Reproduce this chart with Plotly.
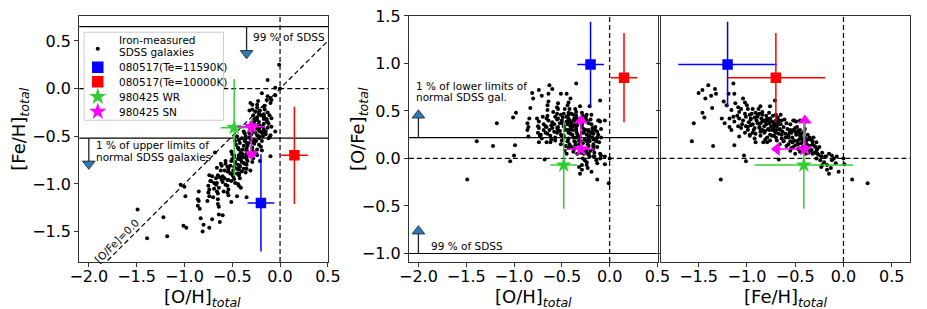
import plotly.graph_objects as go

FONT = "DejaVu Sans"
W, H = 927, 309

# ---------------- data ----------------
# SDSS iron-measured galaxies: ([Fe/H], [O/Fe]) pairs
sdss_feh_ofe = [
    (-1.50, 0.69), (-1.46, 0.72), (-1.40, 0.77), (-1.33, 0.73), (-1.32, 0.68), (-1.37, 0.66),
    (-1.43, 0.63), (-1.14, 0.79), (-1.19, 0.68), (-1.13, 0.68), (-1.24, 0.60), (-1.21, 0.56),
    (-1.36, 0.53), (-1.46, 0.48), (-1.44, 0.43), (-1.55, 0.37), (-1.57, 0.18), (-1.35, 0.13),
    (-1.13, 0.14), (-1.27, -0.22), (-1.03, 0.03), (-1.01, -0.03),
    (-1.04, 0.63), (-1.02, 0.59), (-1.09, 0.54), (-1.06, 0.52), (-1.08, 0.49), (-0.99, 0.52),
    (-0.94, 0.52), (-0.86, 0.55), (-0.76, 0.55), (-0.91, 0.48), (-0.87, 0.47), (-0.97, 0.46),
    (-1.16, 0.51), (-1.14, 0.44), (-1.18, 0.42), (-1.26, 0.42), (-1.23, 0.37), (-1.13, 0.39),
    (-1.08, 0.42), (-1.04, 0.40), (-1.01, 0.44), (-0.96, 0.42), (-0.92, 0.43), (-0.89, 0.44),
    (-0.84, 0.46), (-0.82, 0.40), (-0.79, 0.42), (-0.77, 0.37), (-0.74, 0.39), (-0.72, 0.34),
    (-0.69, 0.35), (-0.69, 0.30), (-1.09, 0.34), (-1.06, 0.32), (-1.01, 0.34), (-0.99, 0.30),
    (-0.96, 0.35), (-0.92, 0.32), (-0.87, 0.32), (-0.84, 0.30), (-0.81, 0.29), (-0.77, 0.30),
    (-0.76, 0.25), (-0.72, 0.24), (-0.94, 0.27), (-0.97, 0.24), (-0.91, 0.17), (-0.86, 0.24),
    (-0.81, 0.20), (-0.79, 0.17), (-1.16, 0.30), (-1.02, 0.27), (-0.84, 0.39), (-0.89, 0.37),
    (-0.70, 0.46), (-0.67, 0.40), (-0.72, 0.37), (-0.69, 0.34), (-0.65, 0.30), (-0.70, 0.27),
    (-0.64, 0.25), (-0.60, 0.22), (-0.57, 0.24), (-0.62, 0.18), (-0.55, 0.18), (-0.52, 0.40),
    (-0.49, 0.39), (-0.50, 0.32), (-0.47, 0.29), (-0.54, 0.27), (-0.45, 0.24), (-0.59, 0.13),
    (-0.52, 0.12), (-0.47, 0.15), (-0.42, 0.20), (-0.39, 0.18), (-0.35, 0.22), (-0.32, 0.18),
    (-0.30, 0.13), (-0.28, 0.08), (-0.27, 0.05), (-0.32, 0.05), (-0.35, 0.08), (-0.39, 0.05),
    (-0.45, 0.07), (-0.50, 0.05), (-0.55, 0.08), (-0.23, 0.02), (-0.18, 0.02), (-0.15, 0.05),
    (-0.12, -0.02), (-0.07, 0.02), (-0.22, -0.07), (-0.17, -0.07), (-0.13, -0.10), (-0.15, -0.16),
    (-0.23, -0.09), (0.09, -0.22), (0.25, -0.26), (0.01, -0.06),
    (-1.10, 0.45), (-1.05, 0.36), (-0.98, 0.38), (-0.95, 0.47), (-0.93, 0.30), (-0.90, 0.40),
    (-0.88, 0.52), (-1.00, 0.56), (-1.12, 0.58), (-0.97, 0.25), (-0.92, 0.21), (-1.08, 0.23),
    (-0.86, 0.28), (-0.84, 0.49), (-1.18, 0.33),
    (-0.82, 0.34), (-0.80, 0.45), (-0.78, 0.31), (-0.76, 0.42), (-0.74, 0.30), (-0.73, 0.45),
    (-0.71, 0.28), (-0.70, 0.40), (-0.68, 0.43), (-0.67, 0.26), (-0.65, 0.36), (-0.64, 0.21),
    (-0.62, 0.33), (-0.61, 0.41), (-0.79, 0.22), (-0.76, 0.19), (-0.83, 0.17), (-0.69, 0.19),
    (-0.66, 0.15), (-0.72, 0.36), (-0.81, 0.39), (-0.77, 0.48), (-0.86, 0.37), (-0.63, 0.28),
    (-0.60, 0.26),
    (-0.58, 0.31), (-0.57, 0.15), (-0.56, 0.27), (-0.55, 0.36), (-0.54, 0.11), (-0.53, 0.22),
    (-0.52, 0.30), (-0.51, 0.19), (-0.50, 0.14), (-0.49, 0.25), (-0.48, 0.33), (-0.47, 0.10),
    (-0.46, 0.20), (-0.45, 0.30), (-0.44, 0.16), (-0.43, 0.26), (-0.42, 0.12), (-0.41, 0.28),
    (-0.40, 0.22), (-0.39, 0.10), (-0.38, 0.15), (-0.37, 0.25), (-0.36, 0.06), (-0.35, 0.13),
    (-0.34, 0.20), (-0.33, 0.09), (-0.32, 0.15), (-0.31, 0.22), (-0.30, 0.06), (-0.29, 0.12),
    (-0.28, 0.17), (-0.27, 0.10), (-0.26, 0.04), (-0.25, 0.12), (-0.28, 0.00),
    (-0.24, -0.02), (-0.22, 0.06), (-0.20, -0.04), (-0.19, 0.02), (-0.17, -0.12), (-0.10, 0.00),
    (-0.08, -0.05), (-0.05, -0.14), (0.00, 0.00), (-0.12, 0.03),
    (-0.71, 0.61), (-0.51, 0.40), (-0.45, 0.40), (-0.65, 0.46), (-0.67, -0.01),
    (-1.02, 0.47), (-0.99, 0.33), (-0.96, 0.41), (-0.94, 0.36), (-0.91, 0.26), (-0.89, 0.46),
    (-0.87, 0.33), (-0.85, 0.42), (-0.82, 0.27), (-0.80, 0.36), (-0.78, 0.40), (-0.75, 0.34),
    (-0.74, 0.24), (-0.72, 0.31), (-0.70, 0.22), (-0.68, 0.38), (-0.66, 0.31), (-0.64, 0.40),
    (-0.62, 0.18), (-0.59, 0.37), (-0.57, 0.22), (-0.55, 0.30), (-0.53, 0.17), (-0.50, 0.28),
    (-0.48, 0.18), (-0.46, 0.27), (-0.44, 0.22), (-0.42, 0.18), (-0.40, 0.31), (-0.37, 0.20),
]
sdss_feh = [p[0] for p in sdss_feh_ofe]
sdss_ofe = [p[1] for p in sdss_feh_ofe]
sdss_oh = [round(f + o, 3) for f, o in sdss_feh_ofe]  # [O/H] = [Fe/H] + [O/Fe]

# GRB host measurements
grb_labels = ["080517(Te=11590K)", "080517(Te=10000K)", "980425 WR", "980425 SN"]
grb_oh = [-0.20, 0.15, -0.48, -0.30]
grb_oh_err = [0.14, 0.14, 0.14, 0.14]
grb_feh = [-1.20, -0.70, -0.41, -0.40]
grb_feh_err = [0.51, 0.51, 0.51, None]   # 980425 SN: upper limit
grb_ofe = [0.99, 0.85, -0.07, 0.10]
grb_ofe_err = [0.45, 0.47, 0.46, None]   # 980425 SN: lower limit
sn_feh_limit_end = -0.69
sn_ofe_limit_end = 0.40

# SDSS percentile limits
sdss_feh_upper_99 = 0.65
sdss_feh_upper_1 = -0.52
sdss_ofe_lower_1 = 0.22
sdss_ofe_lower_99 = -1.0
arrow_feh99 = (-0.35, 0.37)
arrow_feh1 = (-2.0, -0.79)
arrow_ofe1 = (-2.0, 0.455)
arrow_ofe99 = (-2.0, -0.765)

# ---------------- styles ----------------
grb_colors = ["#0000ff", "#ff0000", "#33cc33", "#ff00ff"]
grb_symbols = ["square", "square", "star", "star"]
grb_sizes = [10.5, 10.5, 12, 12]
ARROW_BLUE = "#2b7bba"

fig = go.Figure()

# SDSS dots
dot = dict(size=4, color="black")
fig.add_trace(go.Scatter(x=sdss_oh, y=sdss_feh, mode="markers", marker=dot, xaxis="x", yaxis="y"))
fig.add_trace(go.Scatter(x=sdss_oh, y=sdss_ofe, mode="markers", marker=dot, xaxis="x2", yaxis="y2"))
fig.add_trace(go.Scatter(x=sdss_feh, y=sdss_ofe, mode="markers", marker=dot, xaxis="x3", yaxis="y3"))


def err(v, c):
    if v is None:
        return dict(visible=False)
    return dict(type="data", array=[v], color=c, thickness=1.5, width=0)


# SN limit arrows (drawn first so the star sits on top)
c_sn = grb_colors[3]
i = 3
for (xa, ya, xs, ys, sym) in [
    ("x", "y", [grb_oh[i], grb_oh[i]], [grb_feh[i], sn_feh_limit_end], "triangle-down"),
    ("x2", "y2", [grb_oh[i], grb_oh[i]], [grb_ofe[i], sn_ofe_limit_end], "triangle-up"),
    ("x3", "y3", [grb_feh[i], sn_feh_limit_end], [grb_ofe[i], grb_ofe[i]], "triangle-left"),
    ("x3", "y3", [grb_feh[i], grb_feh[i]], [grb_ofe[i], sn_ofe_limit_end], "triangle-up"),
]:
    fig.add_trace(go.Scatter(x=xs, y=ys, mode="lines", line=dict(color=c_sn, width=1.6),
                             xaxis=xa, yaxis=ya))
    fig.add_trace(go.Scatter(x=[xs[1]], y=[ys[1]], mode="markers",
                             marker=dict(symbol=sym, size=12, color=c_sn), xaxis=xa, yaxis=ya))

# GRB points with error bars
for i in range(4):
    c = grb_colors[i]
    mk = dict(symbol=grb_symbols[i], size=grb_sizes[i], color=c, line=dict(width=0))
    fig.add_trace(go.Scatter(x=[grb_oh[i]], y=[grb_feh[i]], mode="markers", marker=mk,
                             error_x=err(grb_oh_err[i], c), error_y=err(grb_feh_err[i], c),
                             xaxis="x", yaxis="y"))
    fig.add_trace(go.Scatter(x=[grb_oh[i]], y=[grb_ofe[i]], mode="markers", marker=mk,
                             error_x=err(grb_oh_err[i], c), error_y=err(grb_ofe_err[i], c),
                             xaxis="x2", yaxis="y2"))
    fig.add_trace(go.Scatter(x=[grb_feh[i]], y=[grb_ofe[i]], mode="markers", marker=mk,
                             error_x=err(grb_feh_err[i], c), error_y=err(grb_ofe_err[i], c),
                             xaxis="x3", yaxis="y3"))

# SDSS limit arrows
for (xa, ya, base, (ax_, tip), sym) in [
    ("x", "y", sdss_feh_upper_99, arrow_feh99, "triangle-down"),
    ("x", "y", sdss_feh_upper_1, arrow_feh1, "triangle-down"),
    ("x2", "y2", sdss_ofe_lower_1, arrow_ofe1, "triangle-up"),
    ("x2", "y2", sdss_ofe_lower_99, arrow_ofe99, "triangle-up"),
]:
    fig.add_trace(go.Scatter(x=[ax_, ax_], y=[base, tip], mode="lines",
                             line=dict(color="#222222", width=1.3), xaxis=xa, yaxis=ya))
    fig.add_trace(go.Scatter(x=[ax_], y=[tip], mode="markers",
                             marker=dict(symbol=sym, size=11, color=ARROW_BLUE,
                                         line=dict(color="#1a1a1a", width=0.8)),
                             xaxis=xa, yaxis=ya))

# ---------------- reference lines ----------------
DASH = "5px,3px"


def hline(xa, ya, y, dash="solid", width=1.2):
    fig.add_shape(type="line", xref=f"{xa} domain", yref=ya, x0=0, x1=1, y0=y, y1=y,
                  line=dict(color="black", width=width, dash=dash), layer="below")


def vline(xa, ya, x, dash="solid", width=1.2):
    fig.add_shape(type="line", xref=xa, yref=f"{ya} domain", x0=x, x1=x, y0=0, y1=1,
                  line=dict(color="black", width=width, dash=dash), layer="below")


hline("x", "y", sdss_feh_upper_99)
hline("x", "y", sdss_feh_upper_1)
hline("x", "y", 0, DASH)
vline("x", "y", 0, DASH)
fig.add_shape(type="line", xref="x", yref="y", x0=-2.1, y0=-2.1, x1=0.5, y1=0.5,
              line=dict(color="black", width=1.2, dash=DASH), layer="below")
hline("x2", "y2", sdss_ofe_lower_1)
hline("x2", "y2", sdss_ofe_lower_99)
hline("x2", "y2", 0, DASH)
vline("x2", "y2", 0, DASH)
hline("x3", "y3", 0, DASH)
vline("x3", "y3", 0, DASH)

# ---------------- text ----------------
ann = []
small = dict(family=FONT, size=10.5, color="black")


def txt(xa, ya, x, y, t, xanchor="left", angle=0, font=small):
    ann.append(dict(xref=xa, yref=ya, x=x, y=y, text=t, showarrow=False, xanchor=xanchor,
                    yanchor="middle", textangle=angle, font=font))


txt("x", "y", -0.30, 0.54, "99 % of SDSS")
txt("x", "y", -1.95, -0.595, "1 % of upper limits of")
txt("x", "y", -1.95, -0.72, "normal SDSS galaxies")
txt("x", "y", -1.71, -1.60, "[O/Fe]=0.0", xanchor="center", angle=-45)
txt("x2", "y2", -2.045, 0.76, "1 % of lower limits of")
txt("x2", "y2", -2.045, 0.651, "normal SDSS gal.")
txt("x2", "y2", -1.89, -0.925, "99 % of SDSS")

big = dict(family=FONT, size=18, color="black")
sub = "<sub><i>total</i></sub>"
for (xp, yp, t, ang) in [
    (197, 299, "[O/H]" + sub, 0),
    (536.5, 299, "[O/H]" + sub, 0),
    (795.5, 299, "[Fe/H]" + sub, 0),
    (10, 124, "[Fe/H]" + sub, -90),
    (358, 124, "[O/Fe]" + sub, -90),
]:
    ann.append(dict(xref="paper", yref="paper", x=xp / W, y=1 - yp / H, text=t,
                    showarrow=False, xanchor="center", yanchor="middle", textangle=ang,
                    font=big))

# ---------------- legend (drawn on an overlay axis in pixel units) ----------------
leg_x0, leg_x1, leg_y0, leg_y1 = 76, 219, 24, 115
leg_marker_x, leg_text_x = 14, 34
leg_rows = [17, 36.3, 51.3, 66.7, 82]
fig.add_trace(go.Scatter(x=[leg_marker_x], y=[leg_rows[0]], mode="markers", marker=dot,
                         xaxis="x4", yaxis="y4"))
for i in range(4):
    fig.add_trace(go.Scatter(x=[leg_marker_x], y=[leg_rows[i + 1]], mode="markers",
                             marker=dict(symbol=grb_symbols[i], size=grb_sizes[i] + 1,
                                         color=grb_colors[i], line=dict(width=0)),
                             xaxis="x4", yaxis="y4"))
    txt("x4", "y4", leg_text_x, leg_rows[i + 1], grb_labels[i])
txt("x4", "y4", leg_text_x, 8.5, "Iron-measured")
txt("x4", "y4", leg_text_x, 20, "SDSS galaxies")
fig.add_shape(type="rect", xref="x4 domain", yref="y4 domain", x0=0, x1=1, y0=0, y1=1,
              line=dict(color="#cccccc", width=1), fillcolor="rgba(0,0,0,0)", layer="above")

# ---------------- axes ----------------
def xd(a, b):
    return [a / W, b / W]


ydom = [1 - 261.5 / H, 1 - 7 / H]
axis_common = dict(showline=True, mirror=True, linecolor="#333333", linewidth=1,
                   ticks="outside", ticklen=4, tickwidth=1, tickcolor="#333333",
                   showgrid=False, zeroline=False, tickformat=".1f", dtick=0.5, tick0=0,
                   tickfont=dict(family=FONT, size=16, color="black"), fixedrange=True,
                   ticklabeloverflow="allow")
xax = dict(axis_common, ticklabelstandoff=-4)

fig.update_layout(
    width=W, height=H, margin=dict(l=0, r=0, t=0, b=0),
    paper_bgcolor="white", plot_bgcolor="white", showlegend=False,
    font=dict(family=FONT, color="black"),
    xaxis=dict(domain=xd(71, 326), range=[-2.1, 0.5005], anchor="y", **xax),
    yaxis=dict(domain=ydom, range=[-1.82, 0.764], anchor="x", **axis_common),
    xaxis2=dict(domain=xd(409, 664), range=[-2.1, 0.5005], anchor="y2", **xax),
    yaxis2=dict(domain=ydom, range=[-1.09, 1.502], anchor="x2", **axis_common),
    xaxis3=dict(domain=xd(668, 923), range=[-1.885, 0.69], anchor="y3", **xax),
    yaxis3=dict(domain=ydom, range=[-1.09, 1.502], anchor="x3", showticklabels=False,
                **axis_common),
    xaxis4=dict(domain=xd(leg_x0, leg_x1), range=[0, leg_x1 - leg_x0], anchor="y4",
                visible=False, fixedrange=True),
    yaxis4=dict(domain=[1 - leg_y1 / H, 1 - leg_y0 / H], range=[leg_y1 - leg_y0, 0],
                anchor="x4", visible=False, fixedrange=True),
    annotations=ann,
)

fig.write_html("out.html", config={"displayModeBar": False},
               post_script="document.body.style.margin='0px';")
